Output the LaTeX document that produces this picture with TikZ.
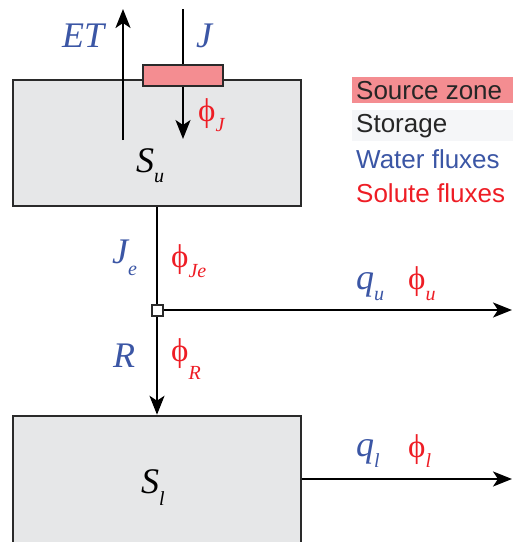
\documentclass[tikz,border=0pt]{standalone}
\usepackage{fontspec}
\setmainfont{Liberation Serif}
\newfontfamily\legendfont{Liberation Sans}
\usetikzlibrary{arrows.meta}
\definecolor{wblue}{HTML}{3B56A5}
\definecolor{sred}{HTML}{EE1D25}
\definecolor{srcfill}{HTML}{F48D91}
\definecolor{boxfill}{HTML}{E6E7E8}
\definecolor{boxline}{HTML}{2A2A2A}
\definecolor{storbg}{HTML}{F5F6F8}
\newcommand\mysub[2]{\raisebox{-#1pt}{\fontsize{20}{20}\selectfont\itshape #2}}
\newcommand\myphi{\upshape ϕ}
\begin{document}
\begin{tikzpicture}[x=1pt,y=-1pt,
  box/.style={draw=boxline, fill=boxfill, line width=2.5pt, inner sep=0pt},
  srcbox/.style={draw=boxline, fill=srcfill, line width=2pt, inner sep=0pt, minimum width=80pt, minimum height=21pt},
  junction/.style={draw=boxline, fill=white, line width=2pt, inner sep=0pt, minimum size=11pt},
  flow/.style={line width=2.2pt, -{Stealth[length=19pt,width=15pt,inset=5pt]}},
  plain/.style={line width=2.2pt},
  wlab/.style={text=wblue, font=\fontsize{36}{36}\selectfont\itshape, anchor=base west, inner sep=0pt},
  slab/.style={text=sred, font=\fontsize{33}{33}\selectfont, anchor=base west, inner sep=0pt},
  klab/.style={text=black, font=\fontsize{36}{36}\selectfont\itshape, anchor=base west, inner sep=0pt},
  leg/.style={font=\legendfont\fontsize{26}{26}\selectfont, anchor=base west, inner sep=0pt}]
\useasboundingbox (0,0) rectangle (513,542);
\clip (0,0) rectangle (513,542);
% boxes
\node[box, minimum width=288pt, minimum height=126pt] (su) at (157,143) {};
\node[box, minimum width=288pt, minimum height=160pt] (sl) at (157,496) {};
\node[srcbox] (src) at (183,75.5) {};
% coordinates
\coordinate (etbot) at (123,140);
\coordinate (ettop) at (123,9);
\coordinate (jtop) at (183,9);
\coordinate (jbot) at (183,139);
\coordinate (jn) at (157,310);
\coordinate (quend) at (512,310);
\coordinate (qlend) at (512,479);
% arrows
\draw[flow] (etbot) -- (ettop);
\draw[plain] (jtop) -- (src.north);
\draw[flow] (src.south) -- (jbot);
\draw[plain] (su.south) -- (jn);
\draw[flow] (jn) -- (quend);
\draw[flow] (jn) -- (sl.north);
\draw[flow] (sl.east |- qlend) -- (qlend);
\node[junction] (jnode) at (jn) {};
% labels
\node[wlab] (lET) at (62,47) {ET};
\node[wlab] (lJ) at (196,47) {J};
\node[slab] (pJ) at (198,121) {\myphi\mysub{10}{J}};
\node[klab] (lSu) at (136,172) {S\mysub{10}{u}};
\node[wlab] (lJe) at (112,263) {J\mysub{12}{e}};
\node[slab] (pJe) at (171,267) {\myphi\mysub{10}{Je}};
\node[wlab] (lqu) at (356,289) {q\mysub{11}{u}};
\node[slab] (pu) at (408,289) {\myphi\mysub{11}{u}};
\node[wlab] (lR) at (113,367) {R};
\node[slab] (pR) at (171,361) {\myphi\mysub{18}{R}};
\node[wlab] (lql) at (356,456) {q\mysub{11}{l}};
\node[slab] (pl) at (408,457) {\myphi\mysub{10}{l}};
\node[klab] (lSl) at (141,493) {S\mysub{12}{l}};
% legend
\fill[srcfill] (352,77) rectangle (513,103);
\fill[storbg] (352,110) rectangle (513,141);
\node[leg, text=black!85] (lg1) at (356,99) {Source zone};
\node[leg, text=black!85] (lg2) at (356,132) {Storage};
\node[leg, text=wblue] (lg3) at (356,168) {Water fluxes};
\node[leg, text=sred] (lg4) at (356,202) {Solute fluxes};
\end{tikzpicture}
\end{document}
